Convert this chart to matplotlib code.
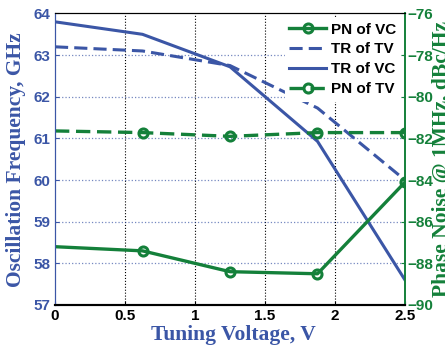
import numpy as np
import matplotlib
matplotlib.use("Agg")
import matplotlib.pyplot as plt

# tuning voltage points (V)
voltage = [0, 0.625, 1.25, 1.875, 2.5]

# oscillation frequency (GHz), left axis
tr_vc = [63.8, 63.5, 62.72, 60.93, 57.6]
tr_tv = [63.2, 63.1, 62.75, 61.73, 60.0]

# phase noise @ 1MHz (dBc/Hz), right axis
pn_vc = [-87.2, -87.4, -88.4, -88.5, -84.1]
pn_tv = [-81.64, -81.72, -81.9, -81.72, -81.72]

xticks = [0, 0.5, 1, 1.5, 2, 2.5]
xticklabels = ["0", "0.5", "1", "1.5", "2", "2.5"]
left_ticks = [57, 58, 59, 60, 61, 62, 63, 64]
right_ticks = [-90, -88, -86, -84, -82, -80, -78, -76]

BLUE = "#3b56a6"
GREEN = "#14803a"

fig = plt.figure(figsize=(4.45, 3.46), dpi=100)
ax = fig.add_axes([0.1236, 0.1185, 0.7865, 0.8425])
ax2 = ax.twinx()

l_trtv, = ax.plot(voltage, tr_tv, color=BLUE, lw=2.2, ls=(0, (4.3, 2)), label="TR of TV")
l_trvc, = ax.plot(voltage, tr_vc, color=BLUE, lw=2.2, label="TR of VC")
mk = dict(marker="o", markersize=6.5, mfc="none", mew=2.2, markevery=[1, 2, 3, 4])
l_pnvc, = ax2.plot(voltage, pn_vc, color=GREEN, lw=2.4, label="PN of VC", **mk)
l_pntv, = ax2.plot(voltage, pn_tv, color=GREEN, lw=2.4, ls=(0, (4.3, 2)), label="PN of TV", **mk)

ax.set_xlim(0, 2.5)
ax.set_ylim(57, 64)
ax2.set_ylim(-90, -76)
ax.set_xticks(xticks)
ax.set_xticklabels(xticklabels)
ax.set_yticks(left_ticks)
ax2.set_yticks(right_ticks)

# grid: vertical black dotted, horizontal blue dotted
for xv in xticks[1:-1]:
    ax.axvline(xv, color="black", lw=0.8, ls=":", zorder=0)
for yv in left_ticks[1:-1]:
    ax.axhline(yv, color=BLUE, lw=0.9, ls=":", alpha=0.7, zorder=0)

ax.tick_params(axis="x", direction="in", length=3, colors="black", labelsize=11, pad=3)
ax.tick_params(axis="y", direction="in", length=3, colors=BLUE, labelsize=11, pad=3)
ax2.tick_params(axis="y", direction="in", length=3, colors=GREEN, labelsize=11, pad=2)
for lab in ax.get_xticklabels() + ax.get_yticklabels() + ax2.get_yticklabels():
    lab.set_fontweight("bold")
    lab.set_family("Liberation Sans")

for a in (ax, ax2):
    a.spines["left"].set_color(BLUE)
    a.spines["right"].set_color(GREEN)
    a.spines["bottom"].set_color("black")
    a.spines["top"].set_color("black")
    a.spines["bottom"].set_linewidth(1.5)
    a.spines["right"].set_linewidth(1.2)

serif = dict(family="Liberation Serif", fontweight="bold", fontsize=15.5)
ax.set_xlabel("Tuning Voltage, V", color=BLUE, **serif)
ax.set_ylabel("Oscillation Frequency, GHz", color=BLUE, **serif)
ax2.set_ylabel("Phase Noise @ 1MHz, dBc/Hz", color=GREEN, **serif)
ax.xaxis.set_label_coords(0.51, -0.068)
ax.yaxis.set_label_coords(-0.083, 0.5)
ax2.yaxis.set_label_coords(1.078, 0.5)

leg = ax2.legend(handles=[l_pnvc, l_trtv, l_trvc, l_pntv], loc="upper right",
                 bbox_to_anchor=(1.0, 1.0), frameon=True, fancybox=False,
                 edgecolor="white", framealpha=1, handlelength=2.4,
                 handletextpad=0.3, labelspacing=0.38, borderpad=0.3,
                 borderaxespad=0.3, prop=dict(family="Liberation Sans", weight="bold", size=11))
leg.get_frame().set_linewidth(0.8)

fig.savefig("out.png", dpi=100)
